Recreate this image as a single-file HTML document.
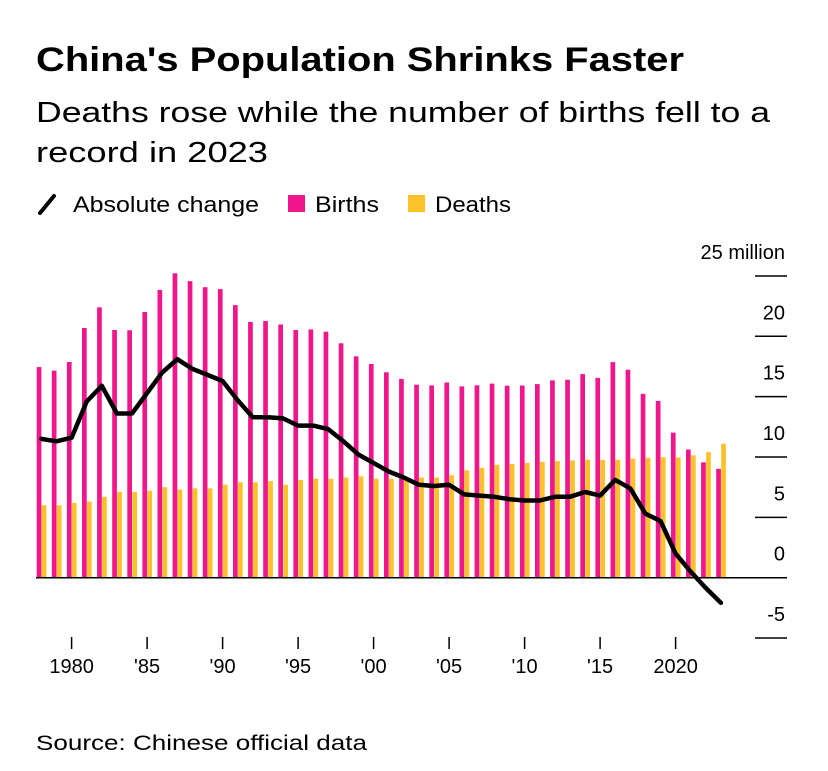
<!DOCTYPE html>
<html><head><meta charset="utf-8"><style>
html,body{margin:0;padding:0;background:#fff;}
svg{display:block;font-family:"Liberation Sans",Arial,sans-serif;}
</style></head><body>
<svg id="chart" width="828" height="771" viewBox="0 0 828 771" xmlns="http://www.w3.org/2000/svg">
<text x="36" y="71" font-size="34" font-weight="bold" fill="#000" textLength="648" lengthAdjust="spacingAndGlyphs">China's Population Shrinks Faster</text>
<text x="36" y="122" font-size="29" fill="#000" textLength="734" lengthAdjust="spacingAndGlyphs">Deaths rose while the number of births fell to a</text>
<text x="36" y="162" font-size="29" fill="#000" textLength="232" lengthAdjust="spacingAndGlyphs">record in 2023</text>
<g>
<line x1="40" y1="213" x2="54" y2="196" stroke="#000" stroke-width="4" stroke-linecap="round"/>
<text x="73" y="212" font-size="22" fill="#000" textLength="186" lengthAdjust="spacingAndGlyphs">Absolute change</text>
<rect x="288" y="195" width="17" height="17" fill="#f0168c"/>
<text x="315" y="212" font-size="22" fill="#000" textLength="64" lengthAdjust="spacingAndGlyphs">Births</text>
<rect x="408" y="195" width="17" height="17" fill="#fdc12a"/>
<text x="435" y="212" font-size="22" fill="#000" textLength="76" lengthAdjust="spacingAndGlyphs">Deaths</text>
</g>
<g id="plot"></g>
<text x="36" y="750" font-size="21" fill="#000" textLength="331" lengthAdjust="spacingAndGlyphs">Source: Chinese official data</text>
</svg>
<script>
const years = [];
for (let y = 1978; y <= 2023; y++) years.push(y);
const births = [17.45,17.15,17.87,20.69,22.4,20.52,20.5,22.02,23.84,25.22,24.57,24.07,23.91,22.58,21.19,21.26,20.98,20.52,20.57,20.38,19.42,18.34,17.71,17.02,16.47,15.99,15.93,16.17,15.85,15.94,16.08,15.91,15.92,16.04,16.35,16.4,16.87,16.55,17.86,17.23,15.23,14.65,12.02,10.62,9.56,9.02];
const deaths = [6.0,6.0,6.2,6.3,6.7,7.1,7.1,7.2,7.5,7.3,7.4,7.4,7.7,7.9,7.9,8.0,7.7,8.1,8.2,8.2,8.3,8.4,8.2,8.2,8.2,8.3,8.3,8.5,8.9,9.1,9.35,9.43,9.51,9.6,9.66,9.72,9.77,9.75,9.77,9.86,9.93,9.98,9.97,10.14,10.41,11.1];
const change = [11.5,11.3,11.6,14.6,15.9,13.6,13.6,15.3,17.0,18.1,17.3,16.8,16.3,14.7,13.3,13.3,13.2,12.6,12.6,12.3,11.3,10.2,9.5,8.8,8.3,7.7,7.6,7.7,6.9,6.8,6.7,6.5,6.4,6.4,6.7,6.7,7.1,6.8,8.1,7.4,5.3,4.7,2.0,0.5,-0.85,-2.08];
const yTicks = [25,20,15,10,5,0,-5];
const yTickLabels = ["25 million","20","15","10","5","0","-5"];
const xTicks = [1980,1985,1990,1995,2000,2005,2010,2015,2020];
const xTickLabels = ["1980","'85","'90","'95","'00","'05","'10","'15","2020"];

const NS = "http://www.w3.org/2000/svg";
const plot = document.getElementById('plot');
const xC = yr => 41.4 + (yr - 1978) * 15.1;
const yS = v => 577.7 - v * 12.07;
function mk(tag, attrs){ const e = document.createElementNS(NS, tag); for (const k in attrs) e.setAttribute(k, attrs[k]); plot.appendChild(e); return e; }

// y ticks
yTicks.forEach((t, i) => {
  const ln = mk('line', {x1:755, x2:787, y1:yS(t), y2:yS(t), stroke:'#000', 'stroke-width':1.5});
  
  
  const tx = mk('text', {x:785, y:yS(t) - 17, 'font-size':20, 'text-anchor':'end', fill:'#000'});
  tx.textContent = yTickLabels[i];
  
  
});

// bars
years.forEach((yr, i) => {
  const b = mk('rect', {x:xC(yr) - 4.7, y:yS(births[i]), width:4.7, height:yS(0) - yS(births[i]), fill:'#f0168c'});
  
  
  const d = mk('rect', {x:xC(yr) + 0.3, y:yS(deaths[i]), width:4.7, height:yS(0) - yS(deaths[i]), fill:'#fdc12a'});
  
  
});

// zero axis
const ax = mk('line', {x1:36, x2:768, y1:yS(0), y2:yS(0), stroke:'#000', 'stroke-width':1.5});



// line
const pts = years.map((yr, i) => xC(yr).toFixed(1) + ',' + yS(change[i]).toFixed(1)).join(' ');
const pl = mk('polyline', {points:pts, fill:'none', stroke:'#000', 'stroke-width':4.5, 'stroke-linejoin':'round', 'stroke-linecap':'round'});



// x ticks
xTicks.forEach((t, i) => {
  const ln = mk('line', {x1:xC(t), x2:xC(t), y1:637, y2:649, stroke:'#000', 'stroke-width':1.5});
  
  
  const tx = mk('text', {x:xC(t), y:673, 'font-size':20, 'text-anchor':'middle', fill:'#000'});
  tx.textContent = xTickLabels[i];
  
  
});
</script>
</body></html>
